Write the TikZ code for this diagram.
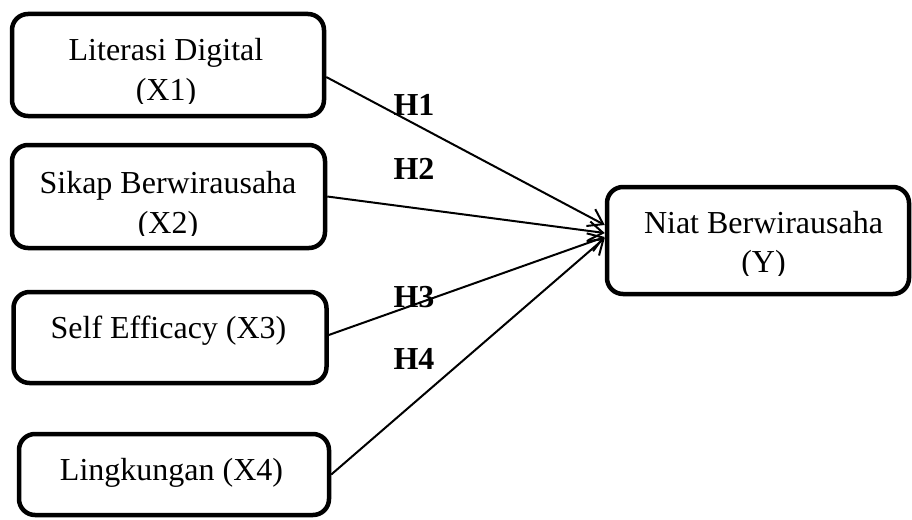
\documentclass[tikz,border=0pt]{standalone}
\usepackage{fontspec}
\setmainfont{Liberation Serif}
\usetikzlibrary{arrows.meta}

\begin{document}
\begin{tikzpicture}[x=1pt,y=-1pt,
    box/.style={draw,line width=4.5pt,rounded corners=16pt,inner sep=0pt},
    txt/.style={anchor=base,inner sep=0pt,font=\fontsize{32}{40}\selectfont},
    hyp/.style={anchor=base,inner sep=0pt,font=\fontsize{32}{36}\selectfont\bfseries},
    link/.style={line width=2pt,-{Straight Barb[length=14pt,width=19pt,line width=2pt]}}]
      \useasboundingbox (0,0) rectangle (912,519);
      % variable boxes
      \node[box,minimum width=312pt,minimum height=102pt] (x1) at (168,65) {};
      \node[box,minimum width=313pt,minimum height=103pt] (x2) at (168.5,196.5) {};
      \node[box,minimum width=313pt,minimum height=91pt] (x3) at (170,337.5) {};
      \node[box,minimum width=310pt,minimum height=81pt] (x4) at (174,474.5) {};
      \node[box,minimum width=302pt,minimum height=107pt] (y) at (758,240.5) {};
      % box texts
      \node[txt] (t1a) at (166,60) {Literasi Digital};
      \node[txt] (t2a) at (168,193) {Sikap Berwirausaha};
      \node[txt] (t3) at (168.5,338) {Self Efficacy (X3)};
      \node[txt] (t4) at (171.5,480) {Lingkungan (X4)};
      \node[txt] (tya) at (763.5,233) {Niat Berwirausaha};
      \begin{scope}
        \clip (0,0) rectangle (912,103);
        \node[txt] (t1b) at (166,100) {(X1)};
      \end{scope}
      \begin{scope}
        \clip (0,120) rectangle (912,235);
        \node[txt] (t2b) at (168,233) {(X2)};
      \end{scope}
      \begin{scope}
        \clip (0,200) rectangle (912,275);
        \node[txt] (tyb) at (763.5,272) {(Y)};
      \end{scope}
      % hypotheses
      \draw[link] ([yshift=-12pt]x1.east) -- ([yshift=15.5pt]y.west);
      \draw[link] (x2.east) -- ([yshift=7.5pt]y.west);
      \draw[link] ([yshift=2.5pt]x3.east) -- ([yshift=3.5pt]y.west);
      \draw[link] (x4.east) -- ([yshift=2.5pt]y.west);
      \node[hyp] (h1) at (414,115) {H1};
      \node[hyp] (h2) at (414,179) {H2};
      \node[hyp] (h3) at (414,307) {H3};
      \node[hyp] (h4) at (414,369) {H4};
\end{tikzpicture}
\end{document}
